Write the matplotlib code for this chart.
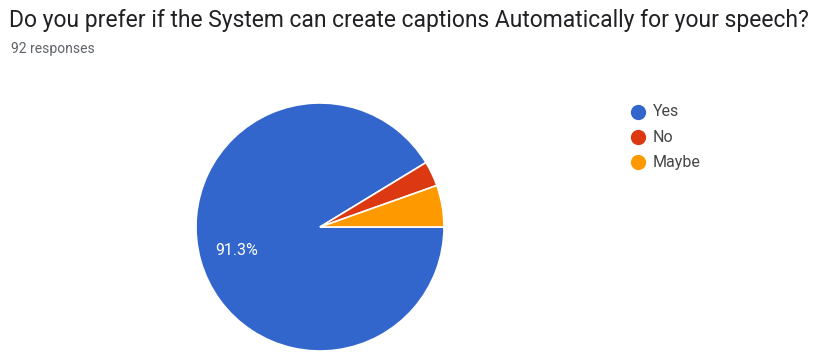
import matplotlib
matplotlib.use("Agg")
import matplotlib.pyplot as plt

plt.rcParams['font.family'] = ['Roboto', 'DejaVu Sans']

title = "Do you prefer if the System can create captions Automatically for your speech?"
subtitle = "92 responses"
categories = ["Yes", "No", "Maybe"]
counts = [84, 3, 5]
colors = ["#3366CC", "#DC3912", "#FF9900"]

W, H = 813, 354
fig = plt.figure(figsize=(W / 100, H / 100), dpi=100)
ax = fig.add_axes([0, 0, 1, 1])

# pixel-style coordinates, y measured upward from the bottom edge
cx, cy, r = 320, H - 227, 124

wedges, _, autotexts = ax.pie(
    counts, colors=colors, startangle=0, counterclock=False,
    center=(cx, cy), radius=r,
    autopct=lambda p: f"{p:.1f}%" if p > 10 else "",
    pctdistance=0.695,
    wedgeprops=dict(edgecolor="white", linewidth=1.2),
    textprops=dict(color="white", fontsize=11.5),
)

ax.set_xlim(0, W)
ax.set_ylim(0, H)
ax.set_aspect("equal")
ax.axis("off")

ax.text(9, H - 27, title, fontsize=16.5, color="#202124", va="baseline", ha="left")
ax.text(11, H - 53, subtitle, fontsize=10, color="#5f6368", va="baseline", ha="left")

# legend
leg_x, leg_y0, leg_dy = 638, H - 112, 25
for i, (lab, col) in enumerate(zip(categories, colors)):
    y = leg_y0 - i * leg_dy
    ax.plot([leg_x], [y], marker="o", markersize=11, color=col, markeredgewidth=0)
    ax.text(leg_x + 15, y, lab, fontsize=11.5, color="#444746", va="center", ha="left")

fig.savefig("out.png", dpi=100)
